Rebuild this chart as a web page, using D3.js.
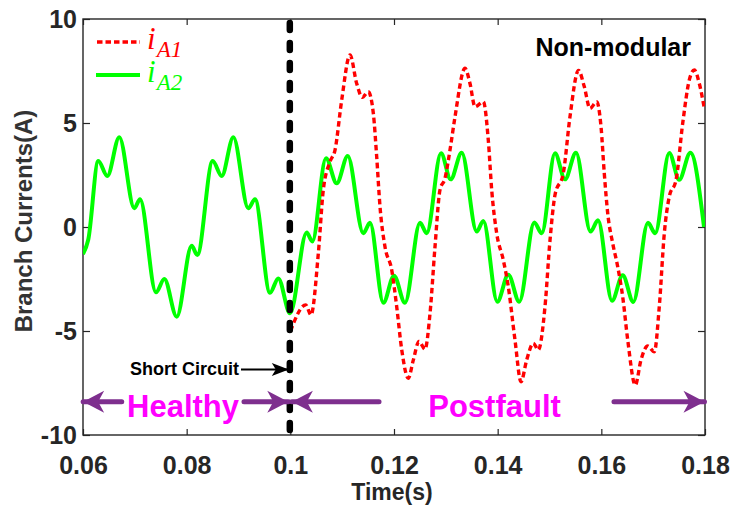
<!DOCTYPE html>
<html>
<head>
<meta charset="utf-8">
<script src="https://cdn.jsdelivr.net/npm/d3@7/dist/d3.min.js"></script>
<style>
  html, body { margin: 0; padding: 0; background: #ffffff; }
  svg { display: block; }
  text { font-family: "Liberation Sans", Arial, sans-serif; }
</style>
</head>
<body>
<svg id="chart" width="744" height="506"></svg>
<script>
// Branch current i_A2 (healthy and postfault), time in s, current in A
const timeA2 = [0.06000, 0.06102, 0.06295, 0.06469, 0.06700, 0.06990, 0.07100, 0.07408, 0.07569, 0.07808,
  0.08097, 0.08205, 0.08502, 0.08676, 0.08900, 0.09189, 0.09318, 0.09608, 0.09768, 0.09994,
  0.10316, 0.10424, 0.10688, 0.10895, 0.11107, 0.11408, 0.11537, 0.11794, 0.12000, 0.12212,
  0.12502, 0.12631, 0.12907, 0.13094, 0.13306, 0.13596, 0.13723, 0.13993, 0.14205, 0.14417,
  0.14707, 0.14850, 0.15106, 0.15299, 0.15511, 0.15791, 0.15936, 0.16206, 0.16412, 0.16617,
  0.16900, 0.17039, 0.17311, 0.17502, 0.17718, 0.17981];
const iA2 = [-1.30, -0.60, 3.17, 2.45, 4.31, 0.90, 1.33, -3.14, -2.50, -4.31,
  -0.90, -1.35, 3.17, 2.45, 4.31, 0.90, 1.33, -3.16, -2.47, -4.15,
  -0.27, -0.70, 3.30, 2.10, 3.41, -0.30, 0.20, -3.64, -2.34, -3.64,
  0.20, -0.30, 3.54, 2.29, 3.57, -0.22, 0.29, -3.59, -2.30, -3.59,
  0.22, -0.30, 3.54, 2.29, 3.57, -0.22, 0.32, -3.55, -2.32, -3.60,
  0.20, -0.30, 3.56, 2.27, 3.57, 0.00];

// Branch current i_A1 after the short circuit
const timeA1 = [0.10003, 0.10297, 0.10399, 0.10540, 0.10636, 0.10765, 0.10862, 0.10991, 0.11151, 0.11280,
  0.11388, 0.11504, 0.11601, 0.11666, 0.11730, 0.11826, 0.11956, 0.12052, 0.12149, 0.12276,
  0.12372, 0.12482, 0.12598, 0.12695, 0.12791, 0.12887, 0.12984, 0.13080, 0.13177, 0.13370,
  0.13466, 0.13563, 0.13723, 0.13819, 0.13885, 0.13981, 0.14109, 0.14205, 0.14334, 0.14450,
  0.14560, 0.14687, 0.14784, 0.14913, 0.15010, 0.15106, 0.15266, 0.15395, 0.15559, 0.15671,
  0.15781, 0.15911, 0.15994, 0.16057, 0.16123, 0.16219, 0.16316, 0.16412, 0.16509, 0.16655,
  0.16765, 0.16895, 0.17022, 0.17118, 0.17215, 0.17311, 0.17441, 0.17570, 0.17697, 0.17794,
  0.17890, 0.17987];
const iA1 = [-5.00, -3.75, -4.23, -1.27, 1.78, 3.14, 3.70, 6.10, 8.27, 6.90,
  6.23, 6.50, 5.47, 3.38, 0.98, -0.95, -2.07, -3.83, -5.90, -7.27,
  -6.40, -5.50, -5.88, -4.15, -0.95, 1.78, 2.34, 3.70, 5.30, 7.63,
  6.90, 5.78, 6.02, 4.18, 1.78, -0.30, -1.59, -2.87, -5.43, -7.44,
  -6.39, -5.59, -5.91, -3.83, -0.63, 1.54, 2.58, 5.30, 7.53, 6.75,
  5.70, 6.02, 4.82, 2.58, 0.66, -0.78, -1.91, -3.35, -5.43, -7.60,
  -6.39, -5.72, -6.00, -3.83, -0.30, 1.46, 2.26, 4.99, 7.07, 7.55,
  6.90, 5.70];

// Axis ticks
const xTicks = [0.06, 0.08, 0.10, 0.12, 0.14, 0.16, 0.18];
const xTickLabels = ["0.06", "0.08", "0.1", "0.12", "0.14", "0.16", "0.18"];
const yTicks = [-10, -5, 0, 5, 10];
const yTickLabels = ["-10", "-5", "0", "5", "10"];

// Event and interval annotations (time in s)
const faultTime = 0.0999;
const healthySpan = [0.0600, 0.0996];
const postfaultSpan = [0.1003, 0.1799];

const svg = d3.select("#chart");
const M = { left: 83, right: 705, top: 19, bottom: 435 };
const axisColor = "#262626";

const x = d3.scaleLinear().domain([0.06, 0.18]).range([M.left, M.right]);
const y = d3.scaleLinear().domain([-10, 10]).range([M.bottom, M.top]);

svg.append("defs").append("clipPath").attr("id", "plotClip")
  .append("rect").attr("x", M.left).attr("y", M.top)
  .attr("width", M.right - M.left).attr("height", M.bottom - M.top);

// Arrowheads
const defs = svg.select("defs");
function marker(id, color, len, half, notch) {
  defs.append("marker").attr("id", id)
    .attr("markerUnits", "userSpaceOnUse")
    .attr("viewBox", `${-len - 1} ${-half - 1} ${len + 2} ${2 * half + 2}`)
    .attr("refX", 0).attr("refY", 0)
    .attr("markerWidth", len + 2).attr("markerHeight", 2 * half + 2)
    .attr("orient", "auto")
    .append("path")
    .attr("d", `M0,0 L${-len},${-half} L${-len + notch},0 L${-len},${half} Z`)
    .attr("fill", color);
}
marker("purpleHead", "#7E2F8E", 21, 11, 6);
marker("blackHead", "#000000", 17, 6.5, 4);

// Axes (ticks point inward)
const axes = svg.append("g");
axes.append("g").attr("transform", `translate(0,${M.bottom})`)
  .call(d3.axisBottom(x).tickValues(xTicks).tickFormat((d, i) => xTickLabels[i]).tickSize(-6).tickSizeOuter(0).tickPadding(21));
axes.append("g").attr("transform", `translate(0,${M.top})`)
  .call(d3.axisTop(x).tickValues(xTicks).tickFormat("").tickSize(-6).tickSizeOuter(0));
axes.append("g").attr("transform", `translate(${M.left},0)`)
  .call(d3.axisLeft(y).tickValues(yTicks).tickFormat((d, i) => yTickLabels[i]).tickSize(-7).tickSizeOuter(0).tickPadding(6));
axes.append("g").attr("transform", `translate(${M.right},0)`)
  .call(d3.axisRight(y).tickValues(yTicks).tickFormat("").tickSize(-7).tickSizeOuter(0));
axes.selectAll(".domain").remove();
axes.selectAll(".tick line").attr("stroke", axisColor).attr("stroke-width", 1.2);
axes.selectAll(".tick text")
  .attr("fill", axisColor)
  .style("font-family", "'Liberation Sans', Arial, sans-serif")
  .style("font-weight", "bold")
  .style("font-size", "25px");

svg.append("rect")
  .attr("x", M.left).attr("y", M.top)
  .attr("width", M.right - M.left).attr("height", M.bottom - M.top)
  .attr("fill", "none").attr("stroke", axisColor).attr("stroke-width", 1.4);

// Curves
const line = d3.line().x(d => x(d[0])).y(d => y(d[1])).curve(d3.curveMonotoneX);
const plot = svg.append("g").attr("clip-path", "url(#plotClip)");

plot.append("path")
  .datum(d3.zip(timeA2, iA2))
  .attr("d", line)
  .attr("fill", "none").attr("stroke", "#00ff00").attr("stroke-width", 4)
  .attr("stroke-linejoin", "round");

plot.append("path")
  .datum(d3.zip(timeA1, iA1))
  .attr("d", line)
  .attr("fill", "none").attr("stroke", "#ff0000").attr("stroke-width", 3.4)
  .attr("stroke-dasharray", "5.5,3.5");

// Fault instant
svg.append("line")
  .attr("x1", x(faultTime)).attr("x2", x(faultTime))
  .attr("y1", M.top + 4).attr("y2", M.bottom)
  .attr("stroke", "#000").attr("stroke-width", 6.5)
  .attr("stroke-linecap", "round")
  .attr("stroke-dasharray", "7,13");

// Legend
const legend = svg.append("g");
legend.append("line").attr("x1", 97).attr("x2", 140).attr("y1", 42).attr("y2", 42)
  .attr("stroke", "#ff0000").attr("stroke-width", 3.4).attr("stroke-dasharray", "5.5,3");
legend.append("line").attr("x1", 96).attr("x2", 140).attr("y1", 75).attr("y2", 75)
  .attr("stroke", "#00ff00").attr("stroke-width", 4);
[["A1", "#ff0000", 49], ["A2", "#00ff00", 82]].forEach(([sub, color, base]) => {
  const t = legend.append("text").attr("x", 147).attr("y", base)
    .attr("fill", color)
    .style("font-family", "'Liberation Serif', 'DejaVu Serif', serif")
    .style("font-style", "italic");
  t.append("tspan").text("i").style("font-size", "31px");
  t.append("tspan").text(sub).attr("dx", 1).attr("dy", 8).style("font-size", "23px");
});

// Labels
svg.append("text").attr("x", 392).attr("y", 500)
  .attr("text-anchor", "middle").attr("fill", axisColor)
  .style("font-weight", "bold").style("font-size", "23px")
  .text("Time(s)");
svg.append("text").attr("transform", "translate(32,221) rotate(-90)")
  .attr("text-anchor", "middle").attr("fill", "#333333")
  .style("font-weight", "bold").style("font-size", "24px")
  .text("Branch Currents(A)");
svg.append("text").attr("x", 691).attr("y", 56)
  .attr("text-anchor", "end").attr("fill", "#000")
  .style("font-weight", "bold").style("font-size", "25px")
  .text("Non-modular");

// Short circuit marker
const scY = y(-6.85);
svg.append("line")
  .attr("x1", 241).attr("x2", x(faultTime) - 1).attr("y1", scY).attr("y2", scY)
  .attr("stroke", "#000").attr("stroke-width", 2)
  .attr("marker-end", "url(#blackHead)");
svg.append("text").attr("x", 239).attr("y", scY + 6)
  .attr("text-anchor", "end").attr("fill", "#000")
  .style("font-weight", "bold").style("font-size", "18px")
  .text("Short Circuit");

// Healthy / Postfault intervals
const bandY = y(-8.4);
function span(x1, x2) {
  svg.append("line")
    .attr("x1", x(x1)).attr("x2", x(x2)).attr("y1", bandY).attr("y2", bandY)
    .attr("stroke", "#7E2F8E").attr("stroke-width", 5)
    .attr("stroke-linecap", "round")
    .attr("marker-end", "url(#purpleHead)");
}
span(0.06747, healthySpan[0] + 0.00003);
span(0.09106, healthySpan[1]);
span(0.11711, postfaultSpan[0]);
span(0.16244, postfaultSpan[1]);

function bandLabel(label, cx) {
  svg.append("text").attr("x", cx).attr("y", 417)
    .attr("text-anchor", "middle").attr("fill", "#ff00ff")
    .style("font-weight", "bold").style("font-size", "31px")
    .text(label);
}
bandLabel("Healthy", x(0.0793));
bandLabel("Postfault", x(0.1394));
</script>
</body>
</html>
